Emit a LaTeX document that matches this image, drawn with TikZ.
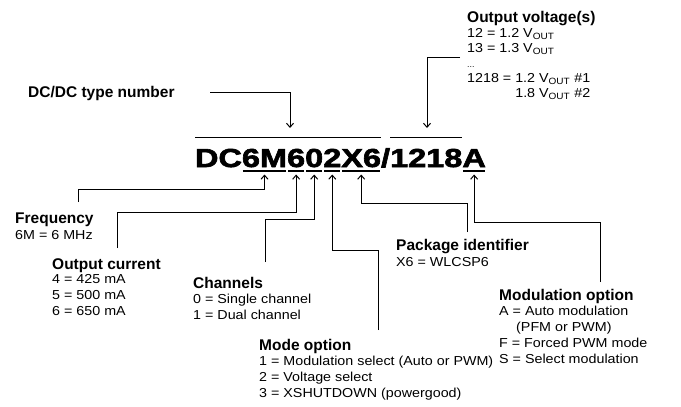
\documentclass[tikz,border=0pt]{standalone}
\usepackage{fontspec}
\setmainfont{Liberation Sans}
\newfontfamily\bodyfont{Liberation Sans}[FakeStretch=1.1]
\newfontfamily\partfont{Liberation Sans Bold}[FakeStretch=1.25,FakeBold=2.5]
\usetikzlibrary{arrows.meta, positioning}

\newcommand{\bstrut}{\rule{0pt}{11pt}}
\newcommand{\vout}{V\textsubscript{OUT}}

\tikzset{
  pn/.style={font=\partfont\fontsize{26}{30}\selectfont, inner sep=0pt, outer sep=0pt, text height=18.6pt, text depth=0pt},
  head/.style={font=\bfseries\fontsize{15.5}{18}\selectfont, inner sep=0pt, anchor=base west},
  body/.style={font=\bodyfont\fontsize{13}{16}\selectfont, align=left, inner sep=0pt, execute at begin node=\bstrut},
  conn/.style={line width=0.9pt, -{Straight Barb[length=4pt,width=7pt,line width=1pt]}},
  uline/.style={line width=1.6pt},
}

\begin{document}
\begin{tikzpicture}[x=1pt, y=-1pt]
    \useasboundingbox (0,0) rectangle (681,407);

    % part number, one node per field
    \node[pn, anchor=base west] (gDC) at (195,167) {DC};
    \node[pn, base right=0pt of gDC] (g6M) {6M};
    \node[pn, base right=0pt of g6M] (g6) {6};
    \node[pn, base right=0pt of g6] (g0) {0};
    \node[pn, base right=0pt of g0] (g2) {2};
    \node[pn, base right=0pt of g2] (gX6) {X6};
    \node[pn, base right=0pt of gX6] (gSl) {/};
    \node[pn, base right=0pt of gSl] (g1218) {1218};
    \node[pn, base right=0pt of g1218] (gA) {A};

    \draw[uline] ([yshift=11pt]gDC.north west) -- ([yshift=11pt]gX6.north east);
    \draw[uline] ([yshift=11pt]g1218.north west) -- ([yshift=11pt]g1218.north east);
    \foreach \g in {g6M, g6, g0, g2, gX6, gA}
        \draw[uline] ([xshift=1pt, yshift=-4pt]\g.south west) -- ([xshift=-1pt, yshift=-4pt]\g.south east);

    % labels
    \node[head] (type) at (28,97) {DC/DC type number};

    \node[head] (volt) at (467,22) {Output voltage(s)};
    \node[body, font=\bodyfont\fontsize{13}{15}\selectfont, below right=6.5pt and 0pt of volt.base west] (voltb)
        {12 = 1.2 \vout\\
         13 = 1.3 \vout\\
         {\fontsize{8}{15}\selectfont ...}\\
         1218 = 1.2 \vout{} \#1\\
         \phantom{1218 = }1.8 \vout{} \#2};

    \node[head] (freq) at (15,223) {Frequency};
    \node[body, below right=5.5pt and 0pt of freq.base west] (freqb) {6M = 6 MHz};

    \node[head] (cur) at (52,269) {Output current};
    \node[body, below right=5.5pt and 0pt of cur.base west] (curb)
        {4 = 425 mA\\ 5 = 500 mA\\ 6 = 650 mA};

    \node[head] (chan) at (193,288) {Channels};
    \node[body, below right=5.5pt and 0pt of chan.base west] (chanb)
        {0 = Single channel\\ 1 = Dual channel};

    \node[head] (mode) at (259,350) {Mode option};
    \node[body, below right=5.5pt and 0pt of mode.base west] (modeb)
        {1 = Modulation select (Auto or PWM)\\ 2 = Voltage select\\ 3 = XSHUTDOWN (powergood)};

    \node[head] (pkg) at (396,250) {Package identifier};
    \node[body, below right=5.5pt and 0pt of pkg.base west] (pkgb) {X6 = WLCSP6};

    \node[head] (mod) at (499,300) {Modulation option};
    \node[body, below right=5.5pt and 0pt of mod.base west] (modb)
        {A = Auto modulation\\ \hspace*{17pt}(PFM or PWM)\\ F = Forced PWM mode\\ S = Select modulation};

    % connector ends
    \coordinate (cType) at (210,92);
    \coordinate (tType) at (290,128);
    \coordinate (cVolt) at (460,57);
    \coordinate (tVolt) at (427,128);
    \coordinate (cFreq) at (78,202);
    \coordinate (cCur) at (117,248);
    \coordinate (cChan) at (265,262);
    \coordinate (cMode) at (378,330);
    \coordinate (cPkg) at (467,232);
    \coordinate (cMod) at (600,282);

    \draw[conn] (cType) -| (tType);
    \draw[conn] (cVolt) -| (tVolt);
    \draw[conn] (cFreq) -- ++(0,-13) -| ([yshift=-7.5pt]g6M.south);
    \draw[conn] (cCur) -- ++(0,-36) -| ([yshift=-7.5pt]g6.south);
    \draw[conn] (cChan) -- ++(0,-43) -| ([yshift=-7.5pt]g0.south);
    \draw[conn] (cMode) -- ++(0,-80) -| ([yshift=-7.5pt]g2.south);
    \draw[conn] (cPkg) -- ++(0,-29) -| ([yshift=-7.5pt]gX6.south);
    \draw[conn] (cMod) -- ++(0,-60) -| ([yshift=-7.5pt]gA.south);
\end{tikzpicture}
\end{document}
